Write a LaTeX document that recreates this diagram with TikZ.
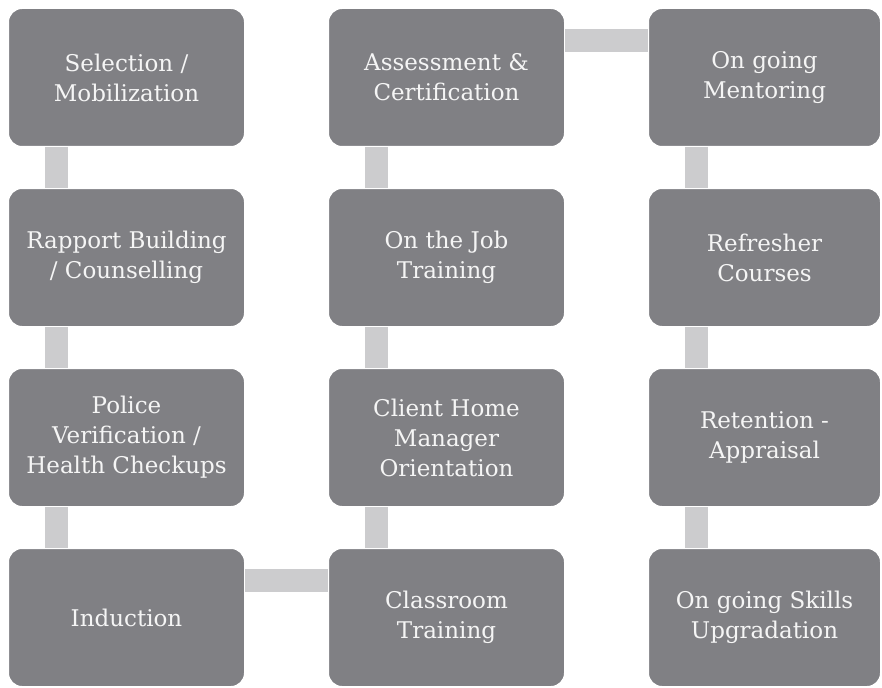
\documentclass[tikz,border=0pt]{standalone}
\usepackage{fontspec}
\setmainfont{DejaVu Serif}
\usetikzlibrary{calc}
\definecolor{stepfill}{RGB}{128,128,132}
\definecolor{barfill}{RGB}{204,204,206}
\definecolor{steptext}{RGB}{245,245,245}
\begin{document}
\begin{tikzpicture}[x=1pt,y=-1pt,
  stepbox/.style={draw=white,line width=2pt,fill=stepfill,rounded corners=14pt,
    minimum width=237pt,minimum height=139pt,inner sep=0pt,outer sep=0pt,
    text=steptext,align=center,font=\fontsize{23}{30}\selectfont},
  narrowbox/.style={stepbox,minimum width=233pt},
  bar/.style={draw=barfill,line width=23pt,line cap=butt}]
\useasboundingbox (0,0) rectangle (882,687);
% column 1
\node[stepbox] (sel)  at (126.5,77.5)  {Selection /\\Mobilization};
\node[stepbox] (rap)  at (126.5,257.5) {Rapport Building\\/ Counselling};
\node[stepbox] (pol)  at (126.5,437.5) {Police\\Verification /\\Health Checkups};
\node[stepbox] (ind)  at (126.5,617.5) {Induction};
% column 2
\node[stepbox] (cls)  at (446.5,617.5) {Classroom\\Training};
\node[stepbox] (cli)  at (446.5,437.5) {Client Home\\Manager\\Orientation};
\node[stepbox] (ojt)  at (446.5,257.5) {On the Job\\Training};
\node[stepbox] (ass)  at (446.5,77.5)  {Assessment \&\\Certification};
% column 3
\node[narrowbox] (men) at (764.5,77.5)  {On going\\Mentoring};
\node[narrowbox] (ref) at (764.5,257.5) {Refresher\\Courses};
\node[narrowbox] (ret) at (764.5,437.5) {Retention -\\Appraisal};
\node[narrowbox] (upg) at (764.5,617.5) {On going Skills\\Upgradation};
% vertical links, offset toward the left edge of each column
\draw[bar] ([xshift=48pt]sel.south west) -- ([xshift=48pt]rap.north west);
\draw[bar] ([xshift=48pt]rap.south west) -- ([xshift=48pt]pol.north west);
\draw[bar] ([xshift=48pt]pol.south west) -- ([xshift=48pt]ind.north west);
\draw[bar] ([xshift=48pt]cls.north west) -- ([xshift=48pt]cli.south west);
\draw[bar] ([xshift=48pt]cli.north west) -- ([xshift=48pt]ojt.south west);
\draw[bar] ([xshift=48pt]ojt.north west) -- ([xshift=48pt]ass.south west);
\draw[bar] ([xshift=48pt]men.south west) -- ([xshift=48pt]ref.north west);
\draw[bar] ([xshift=48pt]ref.south west) -- ([xshift=48pt]ret.north west);
\draw[bar] ([xshift=48pt]ret.south west) -- ([xshift=48pt]upg.north west);
% horizontal links near the top of each row
\draw[bar] ([yshift=-32.5pt]ind.north east) -- ([yshift=-32.5pt]cls.north west);
\draw[bar] ([yshift=-32.5pt]ass.north east) -- ([yshift=-32.5pt]men.north west);
\end{tikzpicture}
\end{document}
